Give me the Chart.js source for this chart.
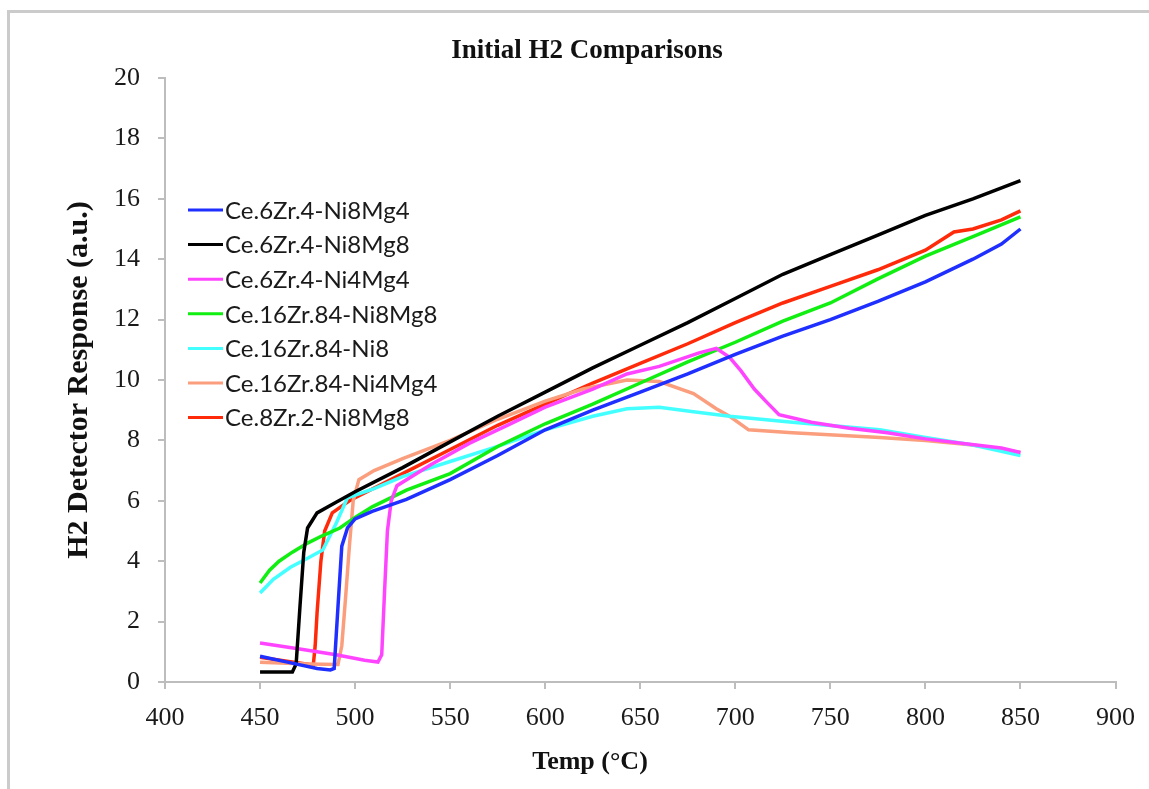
<!DOCTYPE html>
<html>
<head>
<meta charset="utf-8">
<script src="https://cdn.jsdelivr.net/npm/chart.js@4.4.1/dist/chart.umd.min.js"></script>
<style>
  html, body { margin: 0; padding: 0; background: #fff; overflow: hidden; }
  #frameTop { position: absolute; left: 7px; top: 10px; width: 1142px; height: 3px; background: #cbcbcb; }
  #frameLeft { position: absolute; left: 7px; top: 10px; width: 3px; height: 779px; background: #cbcbcb; }
  #wrap { position: absolute; left: 0; top: 0; width: 1149px; height: 789px; }
</style>
</head>
<body>
<div id="frameTop"></div>
<div id="frameLeft"></div>
<div id="wrap"><canvas id="h2Chart" width="1149" height="789"></canvas></div>
<script>
// values, temp in °C and detector response in a.u.
const blueT = [450, 465, 480, 487, 489, 491, 493, 496, 500, 509, 527, 550, 575, 600, 625, 650, 675, 700, 725, 750, 775, 800, 825, 840, 850];
const blueV = [0.85, 0.65, 0.45, 0.4, 0.45, 2.5, 4.5, 5.1, 5.4, 5.65, 6.05, 6.7, 7.5, 8.35, 9.0, 9.6, 10.2, 10.85, 11.45, 12.0, 12.6, 13.25, 14.0, 14.5, 15.0];

const blackT = [450, 467, 469, 471, 473, 475, 480, 490, 500, 525, 550, 575, 600, 625, 650, 675, 700, 725, 750, 775, 800, 825, 850];
const blackV = [0.33, 0.33, 0.6, 2.5, 4.3, 5.1, 5.6, 5.95, 6.3, 7.1, 7.95, 8.8, 9.6, 10.4, 11.15, 11.9, 12.7, 13.5, 14.15, 14.8, 15.45, 16.0, 16.6];

const magentaT = [450, 470, 490, 505, 512, 514, 515.5, 517, 519, 522, 540, 560, 580, 600, 625, 643, 660, 681, 690, 697, 703, 710, 716, 723, 740, 760, 780, 800, 820, 840, 850];
const magentaV = [1.29, 1.1, 0.9, 0.72, 0.66, 0.9, 3.0, 5.0, 6.0, 6.5, 7.2, 7.9, 8.5, 9.1, 9.7, 10.2, 10.45, 10.9, 11.05, 10.75, 10.3, 9.7, 9.3, 8.85, 8.6, 8.4, 8.25, 8.05, 7.9, 7.75, 7.6];

const greenT = [450, 455, 460, 467, 475, 483, 492, 500, 509, 527, 550, 575, 600, 625, 650, 675, 700, 725, 750, 775, 800, 825, 850];
const greenV = [3.28, 3.7, 4.0, 4.3, 4.6, 4.85, 5.1, 5.45, 5.8, 6.35, 6.9, 7.8, 8.55, 9.2, 9.9, 10.6, 11.25, 11.95, 12.55, 13.35, 14.1, 14.75, 15.4];

const cyanT = [450, 457, 466, 475, 483, 490, 496, 510, 525, 550, 575, 600, 625, 643, 660, 678, 697, 730, 776, 800, 825, 850];
const cyanV = [2.95, 3.4, 3.8, 4.1, 4.37, 5.25, 6.1, 6.4, 6.8, 7.3, 7.8, 8.35, 8.8, 9.05, 9.1, 8.95, 8.8, 8.6, 8.35, 8.1, 7.85, 7.5];

const salmonT = [450, 475, 491, 493, 495, 497, 499, 502, 510, 525, 550, 575, 600, 620, 643, 660, 678, 690, 697, 707, 730, 776, 800, 825, 850];
const salmonV = [0.65, 0.6, 0.58, 1.2, 2.8, 4.5, 6.0, 6.7, 7.0, 7.4, 8.0, 8.7, 9.3, 9.7, 10.0, 9.95, 9.55, 9.05, 8.8, 8.35, 8.25, 8.1, 8.0, 7.85, 7.6];

const redT = [450, 465, 478, 479, 480, 482, 484, 488, 497, 500, 525, 550, 575, 600, 625, 650, 675, 700, 725, 750, 775, 800, 815, 825, 840, 850];
const redV = [0.82, 0.68, 0.56, 1.2, 2.3, 4.0, 5.0, 5.6, 6.0, 6.1, 6.9, 7.7, 8.5, 9.2, 9.9, 10.55, 11.2, 11.9, 12.55, 13.1, 13.65, 14.3, 14.9, 15.0, 15.3, 15.6];

const seriesNames = ['Ce.6Zr.4-Ni8Mg4', 'Ce.6Zr.4-Ni8Mg8', 'Ce.6Zr.4-Ni4Mg4', 'Ce.16Zr.84-Ni8Mg8', 'Ce.16Zr.84-Ni8', 'Ce.16Zr.84-Ni4Mg4', 'Ce.8Zr.2-Ni8Mg8'];
const seriesColors = ['#1f2fff', '#000000', '#ff44ff', '#11ee11', '#44ffff', '#fb9e7e', '#ff2a0a'];
const xTicks = [400, 450, 500, 550, 600, 650, 700, 750, 800, 850, 900];
const yTicks = [0, 2, 4, 6, 8, 10, 12, 14, 16, 18, 20];

const allT = [blueT, blackT, magentaT, greenT, cyanT, salmonT, redT];
const allV = [blueV, blackV, magentaV, greenV, cyanV, salmonV, redV];

function toPoints(ts, vs) {
  return ts.map((t, i) => ({ x: t, y: vs[i] }));
}

const datasets = seriesNames.map((name, i) => ({
  label: name,
  data: toPoints(allT[i], allV[i]),
  borderColor: seriesColors[i],
  backgroundColor: seriesColors[i],
  borderWidth: 3.5,
  pointRadius: 0,
  tension: 0
}));

const serif = '"Liberation Serif", "Times New Roman", serif';
const axisGray = '#bdbdbd';

// title, x axis title and the in-plot legend
const textPlugin = {
  id: 'textPlugin',
  afterDraw(chart) {
    const ctx = chart.ctx;
    ctx.save();
    ctx.fillStyle = '#111';
    ctx.textAlign = 'center';
    ctx.textBaseline = 'middle';
    ctx.font = 'bold 27px ' + serif;
    ctx.fillText('Initial H2 Comparisons', 587, 51);
    ctx.font = 'bold 26px ' + serif;
    ctx.fillText('Temp (°C)', 590, 762);

    ctx.font = '24px Lato, "Open Sans", sans-serif';
    ctx.textAlign = 'left';
    chart.data.datasets.forEach((ds, i) => {
      const y = 210 + i * 34.6;
      ctx.strokeStyle = ds.borderColor;
      ctx.lineWidth = 3;
      ctx.beginPath();
      ctx.moveTo(188, y);
      ctx.lineTo(223, y);
      ctx.stroke();
      ctx.fillStyle = '#1a1a1a';
      ctx.fillText(ds.label, 225, y + 1);
    });
    ctx.restore();
  }
};

const ctx = document.getElementById('h2Chart').getContext('2d');
new Chart(ctx, {
  type: 'line',
  data: { datasets: datasets },
  plugins: [textPlugin],
  options: {
    responsive: false,
    animation: false,
    layout: { padding: { top: 78, right: 33, left: 0, bottom: 0 } },
    plugins: {
      legend: { display: false },
      title: { display: false },
      tooltip: { enabled: false }
    },
    scales: {
      x: {
        type: 'linear',
        min: 400,
        max: 900,
        afterBuildTicks: (scale) => { scale.ticks = xTicks.map(v => ({ value: v })); },
        afterFit: (scale) => { scale.height = 107; },
        grid: { drawOnChartArea: false, drawTicks: true, tickLength: 7, color: axisGray, lineWidth: 2 },
        border: { color: axisGray, width: 2 },
        ticks: { color: '#1a1a1a', padding: 14, maxRotation: 0, font: { family: serif, size: 26 } }
      },
      y: {
        min: 0,
        max: 20,
        afterBuildTicks: (scale) => { scale.ticks = yTicks.map(v => ({ value: v })); },
        afterFit: (scale) => { scale.width = 165; },
        grid: { drawOnChartArea: false, drawTicks: true, tickLength: 7, color: axisGray, lineWidth: 2 },
        border: { color: axisGray, width: 2 },
        ticks: { color: '#1a1a1a', padding: 18, font: { family: serif, size: 26 } },
        title: {
          display: true,
          text: 'H2 Detector Response (a.u.)',
          color: '#111',
          padding: { top: 61, bottom: 0 },
          font: { family: serif, size: 30, weight: 'bold' }
        }
      }
    }
  }
});
</script>
</body>
</html>
